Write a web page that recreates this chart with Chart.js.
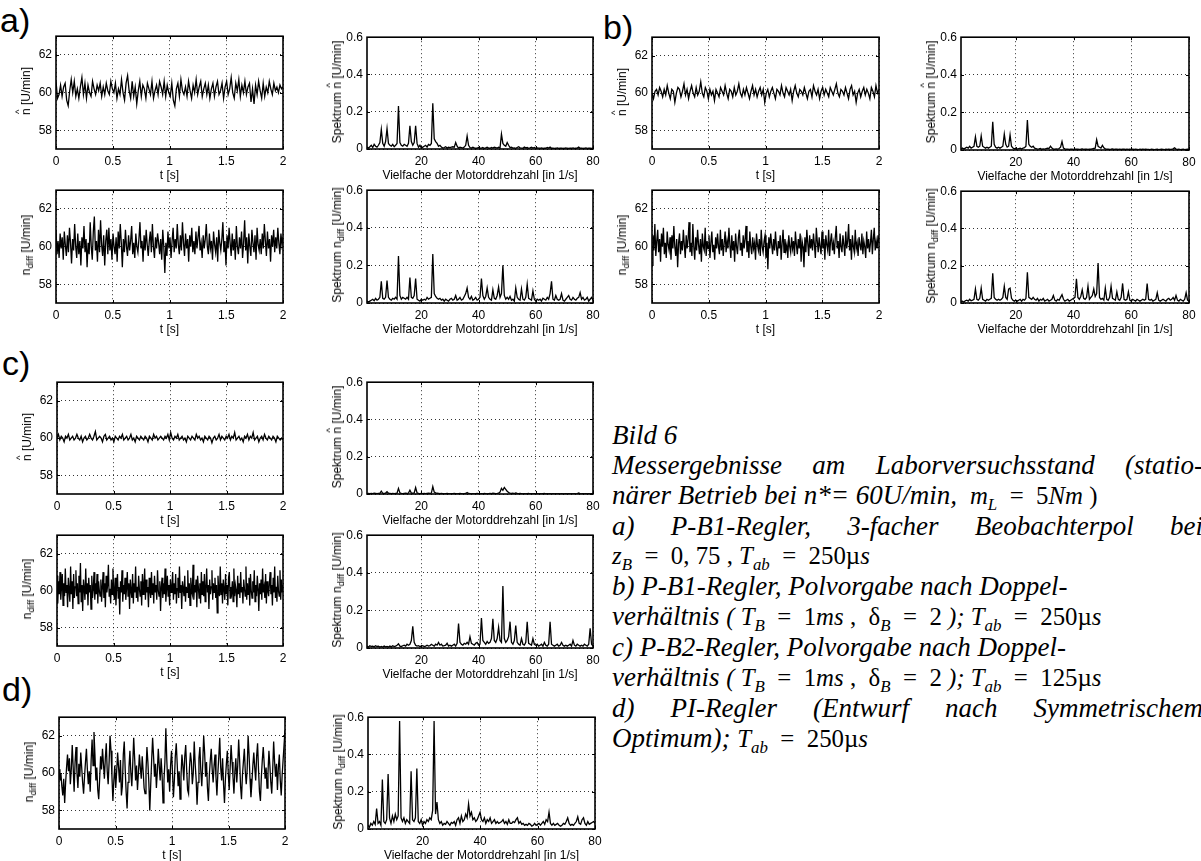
<!DOCTYPE html>
<html lang="de">

<head>
    <meta charset="UTF-8">
    <meta name="viewport" content="width=device-width, initial-scale=1.0">
    <title>Bild 6</title>
    <script src="https://cdn.jsdelivr.net/npm/chart.js"></script>
    <style>
        body { margin: 0; width: 1201px; height: 861px; overflow: hidden; background: #fff; position: relative;
               font-family: "Liberation Sans", Arial, Helvetica, sans-serif; color: #000; }
        canvas { position: absolute; }
        .tag { position: absolute; font-size: 34px; line-height: 34px; }
        .ylab { position: absolute; font-size: 12px; white-space: nowrap; transform: translate(-50%, -50%) rotate(-90deg); }
        .hat { position: relative; display: inline-block; }
        .hat::before { content: "^"; position: absolute; left: 50%; transform: translateX(-50%); top: -0.6em; font-size: 0.8em; }
        .ylab sub { font-size: 0.8em; vertical-align: -0.35em; line-height: 0; }
        #caption { position: absolute; left: 612px; top: 420px; width: 591px;
                   font-family: "Liberation Serif", "Times New Roman", Times, serif; font-style: italic; font-size: 27px; line-height: 30px; }
        #caption div { white-space: nowrap; }
        #caption .j { white-space: normal; text-align: justify; text-align-last: justify; }
        #caption sub { font-size: 0.68em; vertical-align: -0.35em; line-height: 0; }
        .u { font-style: normal; }
        .m { font-size: 0.92em; }
    </style>
</head>

<body>
    <div class="tag" style="left:0px; top:3px">a)</div>
    <div class="tag" style="left:603px; top:10px">b)</div>
    <div class="tag" style="left:2px; top:346px">c)</div>
    <div class="tag" style="left:2px; top:672px">d)</div>

    <div id="caption">
        <div>Bild 6</div>
        <div class="j">Messergebnisse am Laborversuchsstand (statio-</div>
        <div>närer Betrieb bei n*= 60U/min, <span class="m">&nbsp;m<sub>L</sub> <span class="u">&nbsp;=&nbsp; 5</span>Nm<span class="u"> )</span></span></div>
        <div class="j">a) P-B1-Regler, 3-facher Beobachterpol bei</div>
        <div class="m">z<sub>B</sub><span class="u"> &nbsp;=&nbsp; 0, 75 , </span>T<sub>ab</sub><span class="u"> &nbsp;=&nbsp; 250µ</span>s</div>
        <div>b) P-B1-Regler, Polvorgabe nach Doppel-</div>
        <div>verhältnis <span class="m">( T<sub>B</sub><span class="u"> &nbsp;=&nbsp; 1</span>ms<span class="u"> , &nbsp;δ</span><sub>B</sub><span class="u"> &nbsp;=&nbsp; 2 </span>); T<sub>ab</sub><span class="u"> &nbsp;=&nbsp; 250µ</span>s</span></div>
        <div>c) P-B2-Regler, Polvorgabe nach Doppel-</div>
        <div>verhältnis <span class="m">( T<sub>B</sub><span class="u"> &nbsp;=&nbsp; 1</span>ms<span class="u"> , &nbsp;δ</span><sub>B</sub><span class="u"> &nbsp;=&nbsp; 2 </span>); T<sub>ab</sub><span class="u"> &nbsp;=&nbsp; 125µ</span>s</span></div>
        <div class="j">d) PI-Regler (Entwurf nach Symmetrischem</div>
        <div>Optimum); <span class="m">T<sub>ab</sub><span class="u"> &nbsp;=&nbsp; 250µ</span>s</span></div>
    </div>

    <script>
        // Achsen
        const timeTicks = [0, 0.5, 1, 1.5, 2];
        const timeYTicks = [58, 60, 62];
        const specTicks = [20, 40, 60, 80];
        const specYTicks = [0, 0.2, 0.4, 0.6];
        const timeLabel = 't [s]';
        const specLabel = 'Vielfache der Motorddrehzahl [in 1/s]';
        const tEnd = 2;          // Messdauer [s]
        const specStart = 1;     // erste Frequenzlinie [1/s]
        const specStep = 0.5;    // Frequenzaufloesung [1/s]

        // a) Drehzahl (beobachtet / Differenz) [U/min]
        const nHatA = [
            60.6, 59.7, 59.9, 60.4, 59.8, 60.3, 60.5, 59.6, 59.3, 60.1,
            60.7, 60.0, 60.6, 59.8, 60.2, 59.7, 60.3, 60.8, 59.9, 60.5,
            59.7, 60.4, 60.0, 59.8, 60.6, 60.2, 59.9, 60.4, 60.1, 60.5,
            59.8, 60.3, 59.9, 60.5, 60.1, 59.9, 60.6, 60.2, 60.0, 60.5,
            59.7, 60.2, 59.9, 60.7, 60.0, 59.6, 60.5, 60.9, 60.1, 59.7,
            60.6, 59.8, 60.3, 59.4, 60.1, 60.6, 59.8, 60.4, 60.2, 59.7,
            60.5, 60.2, 59.9, 60.6, 59.7, 60.1, 60.4, 59.9, 60.6, 60.3,
            59.9, 60.6, 59.8, 60.4, 60.0, 59.8, 60.5, 59.6, 59.3, 60.2,
            60.5, 59.8, 60.7, 60.1, 59.9, 60.3, 59.8, 60.6, 60.1, 59.7,
            60.4, 60.0, 60.7, 59.9, 60.3, 60.6, 59.8, 60.2, 60.5, 59.9,
            60.4, 59.7, 60.2, 60.5, 59.8, 60.3, 60.6, 59.9, 60.1, 60.5,
            59.7, 60.3, 60.6, 59.9, 60.2, 60.8, 60.0, 59.7, 60.5, 60.1,
            60.7, 59.8, 60.4, 60.0, 60.6, 59.9, 60.3, 60.5, 59.5, 60.2,
            59.4, 60.4, 59.9, 60.6, 60.1, 59.7, 60.5, 59.8, 60.3, 60.0,
            60.6, 60.2, 59.9, 60.5, 60.1, 60.3, 60.0, 60.4, 60.2, 60.3
        ];
        const nDiffA = [
            60.9, 59.6, 60.3, 59.4, 60.7, 59.9, 60.5, 59.3, 60.8, 60.1,
            59.5, 60.6, 59.7, 61.0, 60.2, 59.1, 60.4, 59.8, 61.2, 60.0,
            59.4, 60.7, 59.6, 60.3, 59.0, 60.5, 59.9, 61.1, 59.7, 60.4,
            58.9, 60.2, 59.6, 61.3, 60.0, 59.3, 60.8, 61.6, 59.8, 60.3,
            59.2, 60.9, 59.7, 61.4, 60.1, 59.5, 60.6, 59.0, 60.3, 60.9,
            59.6, 61.0, 59.8, 60.4, 59.3, 60.7, 60.0, 59.6, 60.5, 59.2,
            60.8, 59.9, 61.2, 60.2, 58.9, 60.4, 59.7, 60.9, 60.0, 59.5,
            60.6, 59.8, 60.3, 61.1, 59.6, 60.2, 59.4, 60.7, 60.0, 59.7,
            60.4, 61.3, 59.9, 60.3, 59.2, 60.6, 59.8, 60.9, 60.1, 59.5,
            60.3, 60.8, 59.7, 61.2, 60.0, 59.4, 60.5, 59.9, 60.7, 60.2,
            59.6, 60.4, 59.3, 60.9, 60.0, 58.6, 60.2, 59.5, 60.8, 59.9,
            60.5, 59.4, 60.3, 61.0, 59.7, 60.4, 59.9, 61.2, 60.1, 59.6,
            60.6, 59.8, 61.3, 60.2, 59.5, 60.7, 59.9, 60.4, 59.2, 60.6,
            60.0, 61.0, 59.7, 60.3, 59.6, 60.8, 59.9, 60.5, 61.1, 59.8,
            60.2, 59.4, 60.6, 59.9, 60.4, 61.2, 60.0, 59.6, 60.7, 59.9,
            60.3, 59.3, 60.8, 60.1, 59.7, 60.5, 59.2, 60.9, 60.2, 59.8,
            60.4, 61.3, 59.7, 60.3, 59.0, 60.6, 59.9, 61.0, 60.2, 59.5,
            60.7, 59.8, 60.4, 59.3, 61.1, 60.0, 59.6, 60.5, 59.9, 60.8,
            59.4, 60.2, 61.4, 59.8, 60.5, 59.1, 60.7, 60.0, 59.5, 60.9,
            60.2, 59.7, 60.6, 59.3, 61.0, 60.1, 59.8, 60.4, 59.6, 60.7,
            59.9, 61.2, 60.3, 59.5, 60.8, 59.9, 60.4, 59.2, 60.6, 60.0,
            60.9, 59.7, 60.5, 59.9, 61.0, 60.2, 59.6, 60.7, 60.1, 60.5
        ];
        // a) Spektren [U/min], Linien ab 1/s im Abstand 0.5/s
        const specHatA = [
            0.01, 0.005, 0.012, 0.02, 0.008, 0.025, 0.015, 0.01, 0.02, 0.035,
            0.105, 0.03, 0.015, 0.04, 0.11, 0.03, 0.02, 0.015, 0.025, 0.012,
            0.02, 0.03, 0.23, 0.035, 0.02, 0.015, 0.025, 0.02, 0.015, 0.03,
            0.125, 0.04, 0.02, 0.035, 0.125, 0.03, 0.01, 0.02, 0.005, 0.01,
            0.015, 0.02, 0.01, 0.025, 0.02, 0.03, 0.245, 0.055, 0.04, 0.03,
            0.015, 0.02, 0.01, 0.005, 0.008, 0.012, 0.005, 0.01, 0.008, 0.01,
            0.012, 0.01, 0.035, 0.015, 0.005, 0.01, 0.008, 0.005, 0.01, 0.02,
            0.07, 0.02, 0.008, 0.005, 0.01, 0.006, 0.004, 0.005, 0.008, 0.004,
            0.005, 0.008, 0.003, 0.006, 0.01, 0.005, 0.004, 0.008, 0.005, 0.01,
            0.008, 0.005, 0.01, 0.006, 0.08, 0.03, 0.02, 0.015, 0.035, 0.02,
            0.008, 0.01, 0.005, 0.006, 0.004, 0.008, 0.012, 0.006, 0.005, 0.004,
            0.01, 0.006, 0.008, 0.004, 0.006, 0.01, 0.005, 0.008, 0.004, 0.006,
            0.005, 0.004, 0.006, 0.003, 0.005, 0.004, 0.008, 0.005, 0.01, 0.004,
            0.005, 0.003, 0.004, 0.006, 0.003, 0.004, 0.005, 0.003, 0.004, 0.006,
            0.004, 0.003, 0.005, 0.004, 0.006, 0.003, 0.004, 0.005, 0.01, 0.004,
            0.005, 0.003, 0.004, 0.006, 0.003, 0.004, 0.005, 0.003, 0.004
        ];
        const specDiffA = [
            0.01, 0.005, 0.01, 0.015, 0.02, 0.012, 0.025, 0.015, 0.02, 0.03,
            0.115, 0.025, 0.02, 0.03, 0.12, 0.03, 0.02, 0.015, 0.025, 0.02,
            0.03, 0.02, 0.25, 0.04, 0.02, 0.03, 0.025, 0.02, 0.03, 0.02,
            0.135, 0.03, 0.025, 0.04, 0.13, 0.02, 0.015, 0.01, 0.02, 0.015,
            0.02, 0.015, 0.03, 0.02, 0.025, 0.03, 0.26, 0.05, 0.035, 0.025,
            0.02, 0.025, 0.015, 0.02, 0.01, 0.02, 0.015, 0.01, 0.02, 0.025,
            0.015, 0.02, 0.04, 0.015, 0.02, 0.03, 0.015, 0.02, 0.035, 0.05,
            0.08, 0.03, 0.02, 0.035, 0.015, 0.02, 0.03, 0.015, 0.02, 0.03,
            0.13, 0.04, 0.02, 0.035, 0.08, 0.03, 0.02, 0.015, 0.07, 0.025,
            0.02, 0.04, 0.085, 0.03, 0.05, 0.2, 0.04, 0.02, 0.03, 0.02,
            0.035, 0.015, 0.02, 0.01, 0.08, 0.03, 0.02, 0.015, 0.075, 0.02,
            0.015, 0.03, 0.1, 0.025, 0.02, 0.015, 0.065, 0.02, 0.01, 0.02,
            0.015, 0.02, 0.01, 0.025, 0.02, 0.015, 0.03, 0.02, 0.05, 0.115,
            0.02, 0.015, 0.04, 0.02, 0.015, 0.02, 0.05, 0.015, 0.01, 0.02,
            0.03, 0.04, 0.02, 0.015, 0.03, 0.02, 0.015, 0.025, 0.03, 0.055,
            0.02, 0.03, 0.015, 0.02, 0.03, 0.01, 0.02, 0.03, 0.015
        ];

        // b)
        const nHatB = [
            60.0, 59.7, 60.1, 60.2, 59.9, 60.3, 60.1, 59.8, 60.2, 59.9,
            60.4, 60.0, 59.7, 60.2, 60.1, 59.5, 60.0, 60.3, 60.2, 59.8,
            60.1, 60.5, 59.9, 60.2, 59.7, 60.1, 60.4, 60.0, 59.8, 60.3,
            59.9, 60.1, 60.6, 60.0, 59.8, 60.3, 60.1, 59.7, 60.2, 59.9,
            60.1, 59.6, 60.2, 60.0, 59.8, 60.3, 60.1, 59.9, 60.4, 60.0,
            59.7, 60.2, 60.1, 59.8, 60.3, 59.9, 60.1, 60.5, 60.0, 59.8,
            60.2, 59.9, 60.3, 60.0, 59.7, 60.1, 60.4, 59.9, 60.2, 59.8,
            60.1, 60.3, 59.9, 60.2, 59.5, 60.0, 60.2, 59.8, 60.1, 60.3,
            60.0, 59.7, 60.2, 60.1, 59.9, 60.4, 60.0, 59.8, 60.3, 60.1,
            59.9, 60.2, 59.6, 60.1, 60.4, 60.0, 59.8, 60.2, 60.1, 59.9,
            60.3, 60.0, 59.7, 60.1, 60.2, 59.8, 60.4, 60.1, 59.9, 60.2,
            59.7, 60.1, 60.3, 59.9, 60.2, 60.0, 59.8, 60.3, 60.1, 59.9,
            60.2, 60.5, 60.0, 59.8, 60.2, 60.1, 59.9, 60.3, 60.0, 59.7,
            60.2, 60.4, 59.9, 60.1, 59.5, 60.0, 60.2, 59.8, 60.1, 60.3,
            59.9, 60.2, 60.0, 59.7, 60.3, 60.1, 59.8, 60.4, 60.0, 60.2
        ];
        const nDiffB = [
            59.0, 60.6, 59.8, 61.2, 59.5, 60.3, 60.9, 59.7, 60.4, 59.2,
            60.7, 60.0, 61.0, 59.6, 60.2, 59.4, 60.8, 60.1, 59.8, 60.5,
            59.3, 60.6, 59.9, 61.1, 60.0, 59.5, 60.4, 58.9, 60.2, 60.7,
            59.6, 60.3, 59.8, 60.9, 60.1, 59.4, 60.6, 59.9, 60.4, 61.3,
            59.7, 60.2, 59.5, 61.2, 60.0, 59.3, 60.5, 59.8, 60.9, 60.1,
            59.6, 60.4, 59.2, 60.7, 60.0, 59.8, 61.0, 59.5, 60.3, 59.9,
            60.6, 59.4, 60.2, 60.8, 59.7, 60.1, 59.3, 60.5, 59.9, 60.7,
            60.0, 59.6, 60.9, 59.8, 60.4, 59.5, 60.2, 60.8, 59.7, 60.3,
            59.9, 61.0, 60.1, 59.4, 60.6, 59.8, 60.3, 59.2, 60.7, 60.0,
            59.6, 60.5, 60.9, 59.8, 60.2, 59.5, 60.6, 59.9, 60.4, 61.1,
            59.7, 60.3, 59.4, 60.8, 60.0, 59.6, 60.5, 59.9, 60.2, 59.3,
            60.7, 60.1, 59.8, 60.4, 59.5, 60.9, 60.0, 59.7, 60.3, 60.6,
            59.4, 60.2, 58.8, 60.5, 59.9, 60.7, 60.1, 59.6, 60.4, 59.8,
            60.8, 60.0, 59.5, 60.3, 59.9, 60.6, 59.3, 60.2, 60.9, 59.7,
            60.4, 59.8, 60.1, 59.4, 60.6, 60.0, 59.7, 60.5, 59.9, 60.3,
            59.5, 60.8, 60.1, 59.6, 60.4, 59.9, 60.7, 59.2, 60.3, 60.0,
            58.9, 60.5, 59.7, 60.9, 60.2, 59.5, 60.6, 59.9, 60.4, 59.8,
            60.7, 60.1, 59.4, 61.0, 60.3, 59.7, 60.5, 60.0, 59.6, 60.8,
            59.9, 60.4, 59.3, 60.6, 60.1, 59.8, 60.9, 59.5, 60.3, 60.7,
            59.8, 60.2, 59.6, 60.5, 61.1, 59.9, 60.3, 59.4, 60.7, 60.0,
            59.7, 60.6, 60.1, 59.5, 60.8, 59.9, 60.3, 61.2, 59.8, 60.4,
            59.3, 60.6, 60.0, 59.7, 60.9, 59.9, 60.2, 59.5, 60.5, 60.1,
            59.8, 60.7, 59.6, 60.3, 60.0, 59.4, 60.8, 59.9, 60.4, 59.7,
            60.2, 60.9, 59.6, 60.4, 61.0, 59.8, 60.3, 59.9, 60.6, 60.2
        ];
        const specHatB = [
            0.005, 0.01, 0.005, 0.01, 0.015, 0.01, 0.02, 0.01, 0.015, 0.02,
            0.07, 0.02, 0.015, 0.02, 0.075, 0.02, 0.015, 0.01, 0.015, 0.01,
            0.015, 0.02, 0.15, 0.03, 0.015, 0.01, 0.015, 0.01, 0.015, 0.02,
            0.085, 0.03, 0.015, 0.02, 0.08, 0.02, 0.01, 0.005, 0.01, 0.005,
            0.008, 0.01, 0.005, 0.01, 0.012, 0.02, 0.16, 0.03, 0.02, 0.015,
            0.02, 0.01, 0.008, 0.005, 0.006, 0.008, 0.004, 0.006, 0.005, 0.008,
            0.01, 0.008, 0.02, 0.01, 0.005, 0.004, 0.006, 0.005, 0.008, 0.015,
            0.045, 0.01, 0.006, 0.004, 0.005, 0.003, 0.004, 0.005, 0.003, 0.004,
            0.004, 0.005, 0.003, 0.004, 0.006, 0.003, 0.005, 0.004, 0.003, 0.005,
            0.004, 0.006, 0.008, 0.01, 0.055, 0.02, 0.015, 0.01, 0.025, 0.012,
            0.006, 0.004, 0.005, 0.003, 0.004, 0.006, 0.003, 0.004, 0.005, 0.003,
            0.004, 0.003, 0.005, 0.004, 0.003, 0.004, 0.003, 0.005, 0.003, 0.004,
            0.003, 0.004, 0.003, 0.002, 0.004, 0.003, 0.005, 0.003, 0.004, 0.003,
            0.003, 0.002, 0.004, 0.003, 0.002, 0.003, 0.004, 0.002, 0.003, 0.004,
            0.003, 0.002, 0.004, 0.003, 0.005, 0.003, 0.004, 0.006, 0.012, 0.005,
            0.003, 0.004, 0.002, 0.003, 0.004, 0.002, 0.003, 0.004, 0.003
        ];
        const specDiffB = [
            0.008, 0.01, 0.005, 0.012, 0.015, 0.01, 0.02, 0.012, 0.015, 0.02,
            0.075, 0.02, 0.015, 0.025, 0.08, 0.02, 0.015, 0.01, 0.02, 0.015,
            0.02, 0.025, 0.16, 0.03, 0.02, 0.015, 0.02, 0.015, 0.02, 0.03,
            0.09, 0.03, 0.02, 0.075, 0.08, 0.025, 0.015, 0.01, 0.015, 0.01,
            0.015, 0.02, 0.01, 0.02, 0.015, 0.025, 0.165, 0.03, 0.025, 0.02,
            0.03, 0.02, 0.015, 0.025, 0.01, 0.02, 0.015, 0.025, 0.01, 0.015,
            0.02, 0.01, 0.015, 0.02, 0.04, 0.015, 0.01, 0.02, 0.015, 0.03,
            0.045, 0.02, 0.01, 0.015, 0.02, 0.01, 0.015, 0.02, 0.025, 0.03,
            0.13, 0.03, 0.02, 0.035, 0.07, 0.025, 0.02, 0.03, 0.09, 0.02,
            0.03, 0.04, 0.075, 0.035, 0.05, 0.215, 0.03, 0.02, 0.025, 0.015,
            0.08, 0.02, 0.015, 0.03, 0.09, 0.025, 0.02, 0.015, 0.06, 0.02,
            0.015, 0.03, 0.105, 0.02, 0.015, 0.02, 0.06, 0.015, 0.01, 0.02,
            0.015, 0.01, 0.02, 0.015, 0.01, 0.015, 0.02, 0.015, 0.02, 0.105,
            0.02, 0.015, 0.02, 0.01, 0.015, 0.02, 0.055, 0.015, 0.01, 0.015,
            0.02, 0.015, 0.01, 0.02, 0.025, 0.015, 0.02, 0.03, 0.015, 0.04,
            0.015, 0.01, 0.02, 0.015, 0.01, 0.02, 0.055, 0.015, 0.01
        ];

        // c)
        const nHatC = [
            60.0, 60.2, 59.9, 60.1, 60.0, 59.8, 60.1, 60.0, 60.2, 59.9,
            60.0, 60.1, 59.9, 60.0, 60.2, 60.0, 59.9, 60.1, 59.8, 60.0,
            60.1, 59.9, 60.0, 60.2, 60.0, 59.9, 60.1, 60.35, 59.9, 60.0,
            60.1, 60.0, 59.8, 60.1, 60.2, 59.9, 60.0, 60.1, 59.9, 60.0,
            59.8, 60.1, 60.0, 59.9, 60.1, 60.0, 60.2, 59.9, 60.0, 60.1,
            59.9, 60.0, 60.2, 59.9, 60.0, 59.8, 60.1, 60.0, 59.9, 60.1,
            60.0, 59.9, 60.1, 60.0, 59.8, 60.1, 60.0, 59.9, 60.2, 60.0,
            60.1, 59.9, 60.0, 60.1, 60.0, 59.9, 60.1, 60.0, 60.2, 59.9,
            60.3, 60.0, 59.9, 60.1, 60.0, 60.2, 59.9, 60.0, 60.1, 59.9,
            60.0, 59.8, 60.1, 60.0, 59.9, 60.1, 60.0, 59.9, 60.2, 60.0,
            60.1, 59.9, 60.0, 59.8, 60.1, 60.0, 59.9, 60.1, 60.0, 59.75,
            60.0, 60.1, 59.9, 60.0, 60.2, 59.9, 60.1, 60.0, 59.9, 60.1,
            60.0, 60.2, 59.9, 60.1, 60.0, 60.3, 59.9, 60.0, 60.1, 59.9,
            60.0, 59.8, 60.1, 60.0, 60.2, 59.9, 60.1, 60.0, 60.3, 59.9,
            60.0, 60.1, 59.8, 60.0, 60.1, 59.9, 60.2, 60.0, 59.9, 60.1,
            60.0, 59.9, 60.1, 60.0, 59.8, 60.1, 60.0, 59.9, 60.0, 59.9
        ];
        const nDiffC = [
            60.8, 59.3, 60.5, 59.8, 61.0, 59.5, 60.2, 60.9, 59.2, 60.4,
            59.7, 61.2, 59.9, 60.3, 59.1, 60.7, 60.0, 59.4, 61.3, 59.8,
            60.5, 59.0, 60.9, 59.6, 60.2, 61.1, 59.7, 60.4, 59.3, 60.8,
            59.9, 61.5, 59.4, 60.3, 58.9, 60.6, 60.1, 59.5, 61.2, 59.8,
            60.4, 59.2, 60.7, 59.9, 60.3, 59.0, 60.8, 59.6, 60.1, 61.0,
            59.5, 60.4, 59.8, 60.9, 59.3, 60.5, 60.0, 59.7, 60.6, 59.4,
            60.2, 61.0, 59.6, 60.4, 59.1, 60.8, 59.9, 60.3, 61.4, 59.7,
            60.1, 59.3, 60.6, 59.8, 61.2, 60.0, 59.5, 60.7, 59.2, 60.3,
            60.9, 59.6, 60.2, 58.7, 60.5, 59.9, 61.1, 59.4, 60.3, 59.8,
            60.7, 59.5, 60.1, 61.0, 59.7, 60.4, 59.0, 60.6, 60.0, 59.6,
            60.9, 59.3, 60.4, 59.9, 61.3, 59.6, 60.2, 59.4, 60.8, 60.1,
            59.7, 60.5, 59.2, 60.9, 59.8, 60.3, 61.2, 59.5, 60.6, 59.9,
            60.2, 59.1, 60.7, 60.0, 59.6, 61.0, 59.8, 60.4, 59.3, 60.8,
            59.9, 60.3, 59.5, 61.1, 60.0, 59.7, 60.5, 58.9, 60.2, 60.7,
            59.6, 60.4, 59.8, 61.2, 59.4, 60.1, 60.8, 59.7, 60.3, 59.2,
            60.6, 59.9, 60.2, 61.0, 59.5, 60.4, 59.8, 60.9, 59.3, 60.1,
            60.7, 59.6, 61.3, 59.9, 60.3, 59.0, 60.5, 60.1, 59.7, 60.8,
            59.4, 60.2, 59.9, 61.1, 59.6, 60.4, 59.2, 60.7, 60.0, 59.8,
            61.4, 59.5, 60.3, 59.9, 60.6, 59.1, 60.8, 60.2, 59.6, 60.4,
            59.3, 61.0, 59.8, 60.5, 59.7, 60.9, 59.4, 60.1, 61.2, 59.9,
            60.3, 59.0, 60.6, 59.8, 60.2, 61.1, 59.5, 60.4, 59.9, 60.7,
            59.6, 60.3, 58.8, 60.8, 60.0, 59.7, 61.3, 59.8, 60.4, 59.3,
            60.6, 60.1, 59.5, 60.9, 59.8, 60.3, 59.2, 60.7, 61.0, 59.6,
            60.2, 59.9, 60.5, 59.4, 61.2, 59.7, 60.3, 60.0, 59.1, 60.8,
            59.8, 60.4, 59.6, 61.0, 59.9, 60.2, 59.3, 60.6, 60.1, 59.7,
            61.3, 59.5, 60.4, 59.8, 60.7, 59.2, 60.9, 60.0, 59.6, 60.5,
            59.9, 61.1, 59.4, 60.3, 59.7, 60.8, 60.1, 58.9, 60.4, 59.8,
            60.6, 59.5, 61.2, 59.9, 60.2, 59.6, 60.9, 59.3, 60.5, 60.0,
            59.7, 60.4, 61.0, 59.8, 60.3, 59.2, 60.7, 59.9, 61.3, 59.6,
            60.2, 59.4, 60.8, 60.0, 59.7, 61.1, 59.5, 60.6, 59.9, 60.3
        ];
        const specHatC = [
            0.002, 0.003, 0.002, 0.003, 0.002, 0.004, 0.003, 0.002, 0.003, 0.004,
            0.015, 0.004, 0.003, 0.005, 0.012, 0.004, 0.003, 0.002, 0.003, 0.002,
            0.003, 0.004, 0.03, 0.006, 0.003, 0.002, 0.003, 0.004, 0.003, 0.005,
            0.02, 0.005, 0.004, 0.006, 0.035, 0.006, 0.003, 0.002, 0.003, 0.002,
            0.003, 0.002, 0.003, 0.004, 0.003, 0.005, 0.04, 0.01, 0.006, 0.004,
            0.003, 0.002, 0.003, 0.002, 0.001, 0.002, 0.003, 0.002, 0.001, 0.002,
            0.002, 0.003, 0.002, 0.001, 0.002, 0.003, 0.002, 0.001, 0.002, 0.003,
            0.008, 0.003, 0.002, 0.001, 0.002, 0.001, 0.002, 0.003, 0.002, 0.001,
            0.002, 0.001, 0.003, 0.002, 0.001, 0.002, 0.003, 0.002, 0.004, 0.003,
            0.002, 0.003, 0.005, 0.01, 0.03, 0.02, 0.035, 0.025, 0.015, 0.008,
            0.005, 0.003, 0.004, 0.002, 0.006, 0.003, 0.002, 0.003, 0.002, 0.001,
            0.002, 0.001, 0.002, 0.003, 0.001, 0.002, 0.001, 0.002, 0.001, 0.002,
            0.001, 0.002, 0.001, 0.002, 0.003, 0.001, 0.002, 0.001, 0.002, 0.001,
            0.002, 0.001, 0.002, 0.001, 0.002, 0.001, 0.002, 0.001, 0.001, 0.002,
            0.001, 0.002, 0.001, 0.002, 0.001, 0.002, 0.001, 0.002, 0.005, 0.002,
            0.001, 0.002, 0.001, 0.002, 0.001, 0.002, 0.001, 0.002, 0.003
        ];
        const specDiffC = [
            0.01, 0.005, 0.012, 0.008, 0.01, 0.006, 0.012, 0.008, 0.01, 0.005,
            0.008, 0.005, 0.01, 0.006, 0.008, 0.005, 0.01, 0.006, 0.012, 0.008,
            0.01, 0.015, 0.022, 0.01, 0.008, 0.012, 0.015, 0.01, 0.02, 0.015,
            0.02, 0.04, 0.115, 0.03, 0.015, 0.01, 0.012, 0.008, 0.01, 0.012,
            0.008, 0.01, 0.015, 0.01, 0.012, 0.02, 0.015, 0.01, 0.02, 0.015,
            0.03, 0.015, 0.02, 0.01, 0.012, 0.015, 0.025, 0.01, 0.015, 0.01,
            0.015, 0.02, 0.01, 0.025, 0.13, 0.03, 0.02, 0.015, 0.025, 0.02,
            0.03, 0.02, 0.06, 0.025, 0.02, 0.015, 0.025, 0.03, 0.015, 0.02,
            0.16, 0.04, 0.03, 0.02, 0.035, 0.025, 0.03, 0.05, 0.155, 0.04,
            0.03, 0.05, 0.11, 0.04, 0.03, 0.33, 0.05, 0.03, 0.04, 0.06,
            0.14, 0.03, 0.02, 0.04, 0.12, 0.03, 0.02, 0.015, 0.05, 0.02,
            0.015, 0.03, 0.14, 0.025, 0.02, 0.015, 0.05, 0.02, 0.015, 0.02,
            0.01, 0.015, 0.02, 0.01, 0.03, 0.015, 0.01, 0.02, 0.14, 0.02,
            0.015, 0.01, 0.015, 0.02, 0.01, 0.015, 0.03, 0.015, 0.01, 0.015,
            0.01, 0.015, 0.02, 0.01, 0.04, 0.015, 0.01, 0.02, 0.015, 0.01,
            0.015, 0.01, 0.02, 0.015, 0.01, 0.02, 0.105, 0.02, 0.01
        ];

        // d)
        const nDiffD = [
            60.2, 59.6, 60.0, 59.3, 58.8, 59.7, 58.4, 59.5, 60.3, 61.0,
            60.1, 60.8, 59.4, 60.2, 61.5, 60.3, 59.0, 60.6, 61.4, 60.0,
            59.2, 60.5, 59.8, 61.1, 60.3, 59.5, 58.9, 59.8, 60.6, 61.3,
            60.2, 59.4, 60.1, 59.0, 60.7, 61.8, 60.4, 62.2, 61.0, 59.6,
            60.3, 59.1, 58.6, 59.7, 60.9, 60.2, 61.3, 60.5, 59.7, 60.8,
            61.6, 60.1, 59.4, 60.6, 62.0, 61.2, 59.8, 58.5, 59.6, 60.4,
            59.2, 60.1, 61.1, 60.3, 59.5, 60.7, 58.8, 59.3, 61.0, 61.7,
            60.2, 59.0, 58.1, 59.5, 60.3, 61.2, 60.0, 59.3, 60.5, 61.9,
            60.8, 59.6, 60.4, 59.1, 60.0, 61.0, 60.3, 59.7, 60.9, 60.1,
            59.2, 58.9, 60.1, 61.4, 60.6, 59.5, 58.0, 59.4, 60.7, 61.9,
            60.9, 59.8, 60.5, 59.2, 60.1, 61.3, 60.4, 59.6, 60.8, 59.9,
            58.4, 59.6, 60.6, 62.4, 60.7, 59.5, 60.2, 59.0, 60.4, 61.2,
            60.1, 58.7, 59.6, 60.9, 61.6, 60.5, 59.3, 60.1, 58.6, 59.8,
            61.0, 60.4, 59.6, 60.9, 61.5, 60.2, 59.1, 58.9, 60.3, 61.1,
            60.6, 59.4, 60.0, 61.7, 60.5, 59.7, 58.3, 59.5, 60.8, 61.4,
            60.1, 59.3, 60.5, 62.0, 61.1, 59.8, 60.6, 59.2, 58.5, 59.9,
            60.7, 61.3, 60.2, 59.5, 60.4, 61.0, 59.8, 58.8, 60.0, 60.9,
            61.9, 60.3, 59.6, 60.8, 59.4, 58.4, 59.7, 60.5, 61.2, 60.0,
            59.1, 60.3, 61.5, 60.6, 59.8, 58.9, 60.1, 60.8, 59.5, 60.4,
            61.8, 60.7, 59.3, 58.6, 59.9, 60.6, 61.3, 60.1, 59.4, 60.2,
            62.0, 61.0, 59.7, 58.7, 59.5, 60.4, 61.1, 60.3, 59.6, 60.9,
            61.6, 60.2, 59.0, 58.5, 59.8, 60.7, 61.4, 60.5, 59.7, 60.3,
            59.2, 60.0, 61.2, 60.4, 59.5, 58.9, 60.2, 61.7, 60.6, 59.8,
            60.5, 59.1, 60.3, 61.0, 59.6, 58.8, 59.9, 60.7, 61.5, 62.3
        ];
        const specDiffD = [
            0.02, 0.01, 0.03, 0.02, 0.04, 0.025, 0.11, 0.03, 0.04, 0.02,
            0.265, 0.04, 0.03, 0.05, 0.295, 0.06, 0.03, 0.07, 0.04, 0.08,
            0.05, 0.07, 0.58, 0.06, 0.04, 0.06, 0.03, 0.05, 0.04, 0.03,
            0.31, 0.05, 0.04, 0.06, 0.325, 0.04, 0.03, 0.05, 0.02, 0.04,
            0.03, 0.05, 0.04, 0.06, 0.05, 0.1, 0.58, 0.08, 0.145, 0.05,
            0.03, 0.04, 0.02, 0.03, 0.025, 0.04, 0.03, 0.02, 0.035, 0.03,
            0.04, 0.02, 0.05, 0.06, 0.03, 0.07, 0.04, 0.05, 0.08, 0.06,
            0.135, 0.07, 0.09, 0.05, 0.06, 0.04, 0.05, 0.07, 0.09, 0.05,
            0.04, 0.06, 0.03, 0.05, 0.04, 0.06, 0.03, 0.04, 0.05, 0.03,
            0.04, 0.03, 0.035, 0.04, 0.05, 0.03, 0.04, 0.025, 0.05, 0.03,
            0.03, 0.04, 0.035, 0.05, 0.06, 0.03, 0.04, 0.025, 0.03, 0.02,
            0.025, 0.02, 0.03, 0.025, 0.015, 0.02, 0.03, 0.02, 0.025, 0.03,
            0.02, 0.03, 0.04, 0.025, 0.05, 0.04, 0.09, 0.03, 0.02, 0.03,
            0.02, 0.025, 0.03, 0.02, 0.015, 0.02, 0.03, 0.025, 0.04, 0.06,
            0.03, 0.02, 0.025, 0.02, 0.03, 0.04, 0.065, 0.03, 0.025, 0.05,
            0.06, 0.03, 0.02, 0.04, 0.025, 0.03, 0.035, 0.04, 0.03
        ];

        // Lage der Diagramme (Plotflaeche in px) und Beschriftung
        const HAT = '<span class="hat">n</span>';
        const DIFF = 'n<sub>diff</sub>';
        const panels = [
            { x: 56, y: 33, w: 227, h: 116, spec: false, data: nHatA, n: HAT },
            { x: 367, y: 34, w: 226, h: 115, spec: true, data: specHatA, n: HAT },
            { x: 56, y: 187, w: 227, h: 116, spec: false, data: nDiffA, n: DIFF },
            { x: 367, y: 187, w: 226, h: 116, spec: true, data: specDiffA, n: DIFF },
            { x: 652, y: 34, w: 227, h: 115, spec: false, data: nHatB, n: HAT },
            { x: 961, y: 34, w: 228, h: 116, spec: true, data: specHatB, n: HAT },
            { x: 652, y: 187, w: 227, h: 116, spec: false, data: nDiffB, n: DIFF },
            { x: 961, y: 188, w: 228, h: 115, spec: true, data: specDiffB, n: DIFF },
            { x: 57, y: 379, w: 226, h: 115, spec: false, data: nHatC, n: HAT },
            { x: 367, y: 379, w: 226, h: 115, spec: true, data: specHatC, n: HAT },
            { x: 57, y: 532, w: 226, h: 114, spec: false, data: nDiffC, n: DIFF },
            { x: 367, y: 532, w: 226, h: 116, spec: true, data: specDiffC, n: DIFF },
            { x: 59, y: 714, w: 226, h: 115, spec: false, data: nDiffD, n: DIFF },
            { x: 368, y: 714, w: 227, h: 115, spec: true, data: specDiffD, n: DIFF }
        ];

        const font = { family: '"Liberation Sans", Arial, Helvetica, sans-serif', size: 12 };

        // Rahmen und nach innen zeigende Ticks wie in Matlab
        const frame = {
            id: 'frame',
            afterDraw(chart) {
                const { ctx, chartArea: a, scales } = chart;
                ctx.save();
                ctx.strokeStyle = '#000';
                ctx.lineWidth = 1;
                ctx.beginPath();
                scales.x.ticks.forEach(t => {
                    const px = Math.round(scales.x.getPixelForValue(t.value)) + 0.5;
                    ctx.moveTo(px, a.bottom); ctx.lineTo(px, a.bottom - 3);
                    ctx.moveTo(px, a.top); ctx.lineTo(px, a.top + 3);
                });
                scales.y.ticks.forEach(t => {
                    const py = Math.round(scales.y.getPixelForValue(t.value)) + 0.5;
                    ctx.moveTo(a.left, py); ctx.lineTo(a.left + 3, py);
                    ctx.moveTo(a.right, py); ctx.lineTo(a.right - 3, py);
                });
                ctx.stroke();
                ctx.lineWidth = 1.6;
                ctx.strokeRect(a.left, a.top, a.right - a.left, a.bottom - a.top);
                ctx.restore();
            }
        };

        panels.forEach(p => {
            const L = 62, T = 8, R = 14, B = 40;
            const cv = document.createElement('canvas');
            cv.width = p.w + L + R;
            cv.height = p.h + T + B;
            cv.style.left = (p.x - L) + 'px';
            cv.style.top = (p.y - T) + 'px';
            document.body.appendChild(cv);

            const pts = p.data.map((v, i) => ({
                x: p.spec ? specStart + i * specStep : i * tEnd / (p.data.length - 1),
                y: v
            }));

            new Chart(cv.getContext('2d'), {
                type: 'line',
                data: {
                    datasets: [{
                        data: pts,
                        borderColor: '#000',
                        borderWidth: 1.3,
                        pointRadius: 0,
                        tension: 0
                    }]
                },
                options: {
                    animation: false,
                    responsive: false,
                    devicePixelRatio: 1,
                    events: [],
                    layout: { autoPadding: false, padding: { left: 0, top: T, right: R, bottom: 0 } },
                    plugins: { legend: { display: false }, tooltip: { enabled: false } },
                    scales: {
                        x: {
                            type: 'linear',
                            min: p.spec ? specStart : 0,
                            max: p.spec ? 80 : tEnd,
                            afterBuildTicks: s => { s.ticks = (p.spec ? specTicks : timeTicks).map(v => ({ value: v })); },
                            afterFit: s => { s.height = B; },
                            ticks: { font, color: '#000', padding: 5, maxRotation: 0, autoSkip: false, callback: v => String(v) },
                            grid: { color: 'rgba(0,0,0,0.8)', lineWidth: 1, drawTicks: false },
                            border: { display: false, dash: [1, 3] },
                            title: { display: true, text: p.spec ? specLabel : timeLabel, font, color: '#000', padding: { top: 0, bottom: 6 } }
                        },
                        y: {
                            min: p.spec ? 0 : 57,
                            max: p.spec ? 0.6 : 63,
                            afterBuildTicks: s => { s.ticks = (p.spec ? specYTicks : timeYTicks).map(v => ({ value: v })); },
                            afterFit: s => { s.width = L; },
                            ticks: { font, color: '#000', padding: 4, callback: v => String(v) },
                            grid: { color: 'rgba(0,0,0,0.8)', lineWidth: 1, drawTicks: false },
                            border: { display: false, dash: [1, 3] }
                        }
                    }
                },
                plugins: [frame]
            });

            // y-Beschriftung mit Dach / Index als echter Text
            const lab = document.createElement('div');
            lab.className = 'ylab';
            lab.innerHTML = (p.spec ? 'Spektrum ' : '') + p.n + ' [U/min]';
            lab.style.left = (p.x - 30) + 'px';
            lab.style.top = (p.y + p.h / 2) + 'px';
            document.body.appendChild(lab);
        });
    </script>
</body>

</html>
